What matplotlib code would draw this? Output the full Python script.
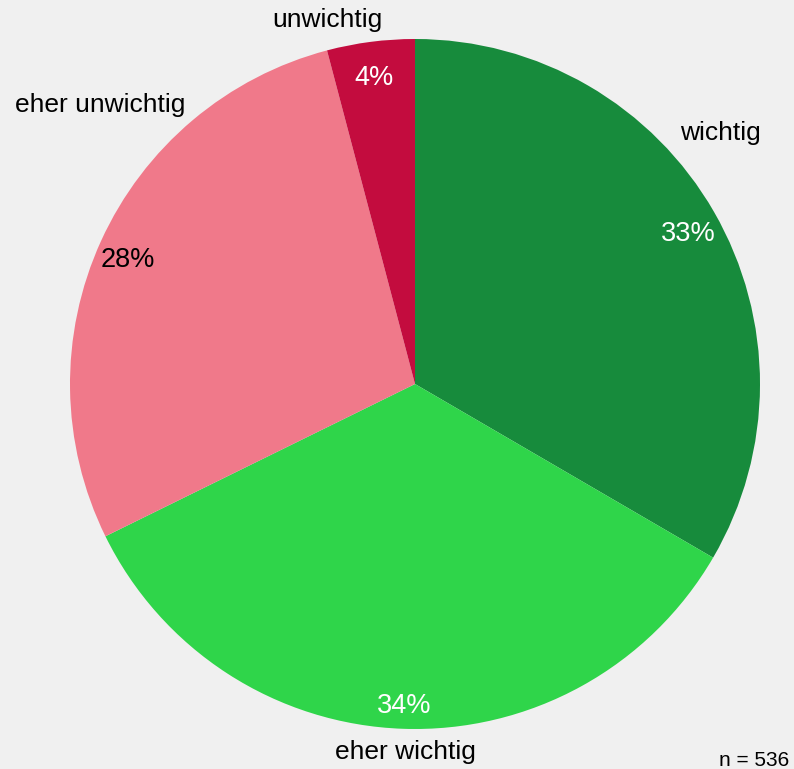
import numpy as np
import matplotlib.pyplot as plt

# Antworten (n = 536), im Uhrzeigersinn ab 12 Uhr
categories = ["wichtig", "eher wichtig", "eher unwichtig", "unwichtig"]
counts = [179, 184, 151, 22]
colors = ["#178b3c", "#2fd54a", "#f0798a", "#c30c3e"]
pct_colors = ["white", "white", "black", "white"]
n_total = 536

# Lage der Kategorienamen (Einheiten des Kreisradius)
label_pos = [(0.884, 0.727), (-0.029, -1.067), (-0.913, 0.808), (-0.255, 1.055)]

plt.rcParams['font.family'] = ['Liberation Sans', 'DejaVu Sans']

fig = plt.figure(figsize=(7.94, 7.69), dpi=100, facecolor="#f0f0f0")
# Kreis: Mittelpunkt bei (415, 384) px, Radius 345 px
ax = fig.add_axes([70 / 794, 40 / 769, 690 / 794, 690 / 769])
ax.set_facecolor("#f0f0f0")

wedges, texts = ax.pie(counts, colors=colors, startangle=90, counterclock=False,
                       radius=1.0, wedgeprops=dict(linewidth=0))

total = sum(counts)
angle = 90.0
for w, c, col in zip(wedges, counts, pct_colors):
    span = 360.0 * c / total
    mid = np.deg2rad(angle - span / 2)
    angle -= span
    ax.text(0.915 * np.cos(mid), 0.915 * np.sin(mid) - 0.02,
            f"{round(100 * c / total)}%",
            ha="center", va="center", fontsize=19.5, color=col)

for name, (x, y) in zip(categories, label_pos):
    ax.text(x, y, name, ha="center", va="center", fontsize=19, color="black",
            clip_on=False)

ax.set_xlim(-1, 1)
ax.set_ylim(-1, 1)
ax.set_aspect("equal")
ax.set_axis_off()

fig.text(754 / 794, 1 - 766 / 769, f"n = {n_total}", ha="center", va="baseline",
         fontsize=15)

fig.savefig("out.png", dpi=100, facecolor=fig.get_facecolor())
